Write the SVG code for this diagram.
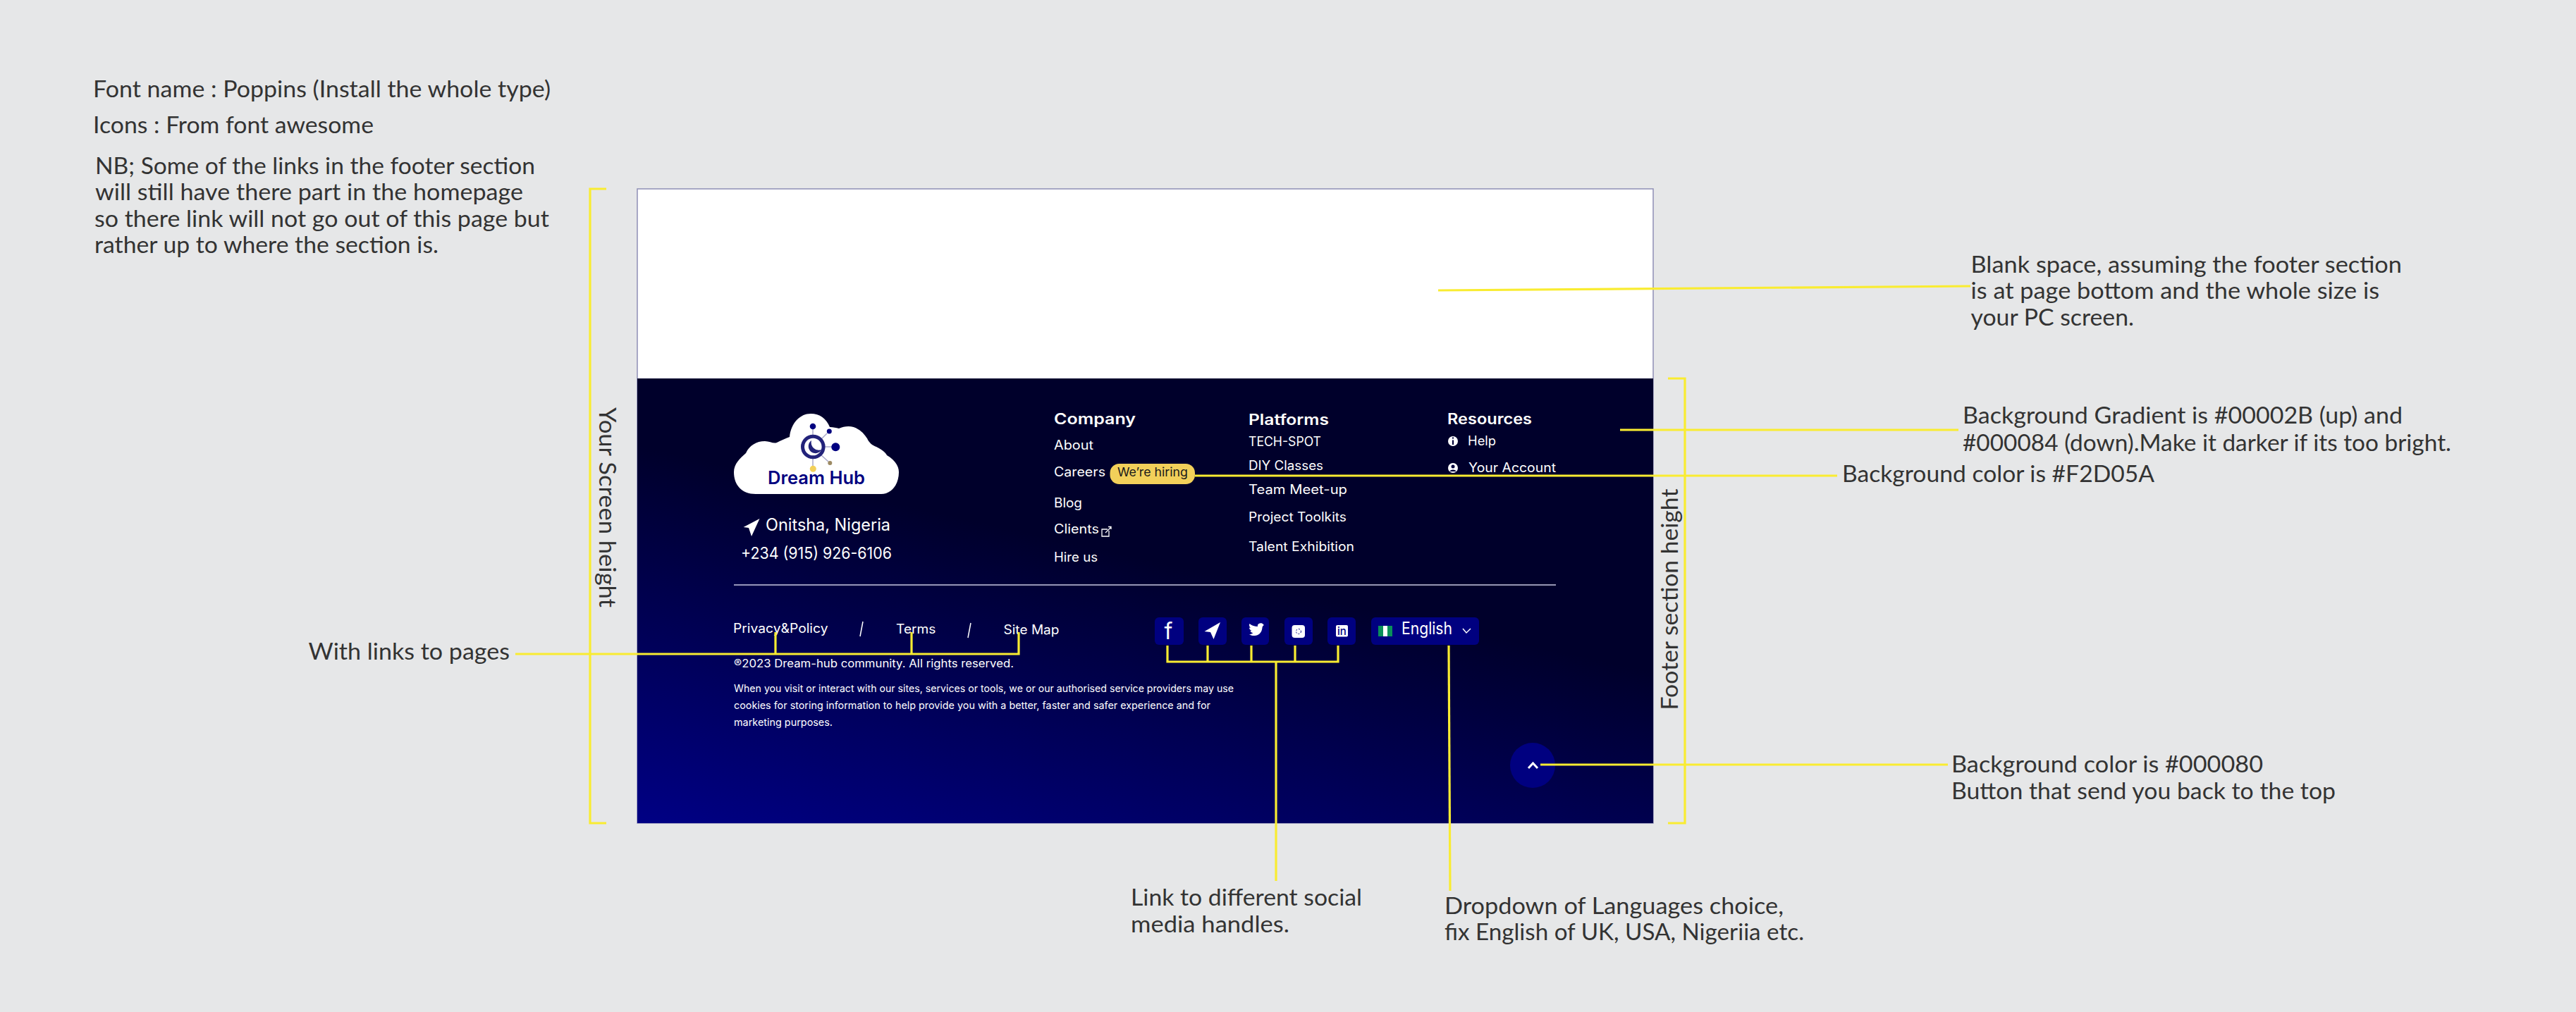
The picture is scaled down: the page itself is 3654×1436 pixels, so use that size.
<svg xmlns="http://www.w3.org/2000/svg" width="3654" height="1436" viewBox="0 0 3654 1436">
<defs>
<linearGradient id="footerGrad" gradientUnits="userSpaceOnUse" x1="904" y1="632" x2="790" y2="1142">
<stop offset="0" stop-color="#00002B"/><stop offset="1" stop-color="#000084"/>
</linearGradient>
</defs>
<style>
.note{font-family:"Lato","Liberation Sans",sans-serif;font-size:32px;fill:#333333}
.ft{font-family:"Inter","Liberation Sans",sans-serif;font-size:18px;fill:#ffffff}
.head{font-weight:600;font-size:21px}
.small{font-size:14.5px}
.conn{fill:none;stroke:#f9ec31;stroke-width:3.2}
.btn{fill:#000080}
.ico{fill:#ffffff}
.icoS{fill:none;stroke:#ffffff;stroke-width:2}
</style>
<rect width="3654" height="1436" fill="#e6e7e8"/>

<g id="notes">
<text class="note" x="132" y="138" textLength="649" lengthAdjust="spacingAndGlyphs">Font name : Poppins (Install the whole type)</text>
<text class="note" x="132" y="189" textLength="398" lengthAdjust="spacingAndGlyphs">Icons : From font awesome</text>
<text class="note" x="135" y="247" textLength="624" lengthAdjust="spacingAndGlyphs">NB; Some of the links in the footer section</text>
<text class="note" x="135" y="284" textLength="607" lengthAdjust="spacingAndGlyphs">will still have there part in the homepage</text>
<text class="note" x="134" y="322" textLength="645" lengthAdjust="spacingAndGlyphs">so there link will not go out of this page but</text>
<text class="note" x="134" y="359" textLength="488" lengthAdjust="spacingAndGlyphs">rather up to where the section is.</text>
</g>

<g id="page">
<rect x="904" y="268" width="1441" height="900" fill="#ffffff" stroke="#8f8fb5" stroke-width="1.5"/>
<rect id="footer-bg" x="904" y="537" width="1441" height="631" fill="url(#footerGrad)"/>
</g>

<g id="logo">
<path d="M1072 701C1052 701 1041 688 1041 670C1041 658 1050 650 1058 643C1063 632 1073 626 1085 626C1092 626 1097 630 1102 628C1108 625 1114 622 1120 620C1122 600 1135 587 1150 587C1163 587 1172 594 1177 606C1182 606 1186 607 1190 608C1199 604 1210 604 1217 609C1224 613 1227 618 1230 622C1233 629 1238 632 1243 634C1251 638 1256 642 1258 646C1268 652 1275 660 1275 670C1275 688 1264 701 1250 701Z" fill="#ffffff"/>
<g stroke="#a9a9c9" stroke-width="1.5" fill="none">
<path d="M1153 609V620M1173 615L1165 623M1170 634H1180M1165 646L1175 655M1153 651V661"/>
</g>
<circle cx="1153.3" cy="634" r="14.8" fill="none" stroke="#22227a" stroke-width="5"/>
<path d="M1151 625A10 10 0 1 0 1165.5 638A11 11 0 0 1 1151 625Z" fill="#22227a"/>
<circle cx="1153" cy="605" r="4.3" fill="#000080"/>
<circle cx="1176.3" cy="612" r="3.5" fill="#000080"/>
<circle cx="1185.3" cy="634.3" r="6" fill="#000080"/>
<circle cx="1177.3" cy="657" r="3" fill="#9c8a63"/>
<circle cx="1153.3" cy="665.3" r="4.5" fill="#f2d05a"/>
<text x="1089" y="687" textLength="138" lengthAdjust="spacingAndGlyphs" font-family="Inter, 'Liberation Sans', sans-serif" font-weight="600" font-size="25" fill="#000080">Dream Hub</text>
</g>

<g id="contact">
<polygon class="ico" points="1077.5,736 1054.6,748 1062,749 1066,761"/>
<text class="ft" x="1086" y="753" style="font-size:24px" textLength="177" lengthAdjust="spacingAndGlyphs">Onitsha, Nigeria</text>
<text class="ft" x="1051" y="793" style="font-size:23px" textLength="214" lengthAdjust="spacingAndGlyphs">+234 (915) 926-6106</text>
</g>

<g id="company">
<text class="ft head" x="1495" y="602" textLength="116" lengthAdjust="spacingAndGlyphs">Company</text>
<text class="ft" x="1495" y="638" textLength="56" lengthAdjust="spacingAndGlyphs">About</text>
<text class="ft" x="1495" y="676" textLength="73" lengthAdjust="spacingAndGlyphs">Careers</text>
<text class="ft" x="1495" y="720" textLength="40" lengthAdjust="spacingAndGlyphs">Blog</text>
<text class="ft" x="1495" y="757" textLength="64" lengthAdjust="spacingAndGlyphs">Clients</text>
<path class="icoS" style="stroke-width:1.3" d="M1571 751H1563V761H1573V753M1568 756L1576 748M1572 747.500H1576V751"/>
<text class="ft" x="1495" y="797" textLength="62" lengthAdjust="spacingAndGlyphs">Hire us</text>
</g>

<g id="hiring-badge">
<rect x="1574.500" y="658" width="120.500" height="29" rx="13" fill="#F2D05A"/>
<text class="ft" x="1585" y="676" style="fill:#1a1a1a;font-size:17px" textLength="100" lengthAdjust="spacingAndGlyphs">We’re hiring</text>
</g>

<g id="platforms">
<text class="ft head" x="1771" y="603" textLength="114" lengthAdjust="spacingAndGlyphs">Platforms</text>
<text class="ft" x="1771" y="633" textLength="103" lengthAdjust="spacingAndGlyphs">TECH-SPOT</text>
<text class="ft" x="1771" y="667" textLength="106" lengthAdjust="spacingAndGlyphs">DIY Classes</text>
<text class="ft" x="1771" y="701" textLength="140" lengthAdjust="spacingAndGlyphs">Team Meet-up</text>
<text class="ft" x="1771" y="740" textLength="139" lengthAdjust="spacingAndGlyphs">Project Toolkits</text>
<text class="ft" x="1771" y="782" textLength="150" lengthAdjust="spacingAndGlyphs">Talent Exhibition</text>
</g>

<g id="resources">
<text class="ft head" x="2053" y="602" textLength="120" lengthAdjust="spacingAndGlyphs">Resources</text>
<circle class="ico" cx="2061" cy="626" r="7"/>
<path d="M2061 620.500V622.500M2061 624.500V631" stroke="#00003a" stroke-width="2.200" fill="none"/>
<text class="ft" x="2082" y="632" textLength="40" lengthAdjust="spacingAndGlyphs">Help</text>
<circle class="ico" cx="2061" cy="664" r="7"/>
<circle cx="2061" cy="662" r="2.500" fill="#00003a"/>
<path d="M2056.500 669C2057 665.500 2065 665.500 2065.500 669Z" fill="#00003a"/>
<text class="ft" x="2083" y="670" textLength="124" lengthAdjust="spacingAndGlyphs">Your Account</text>
</g>

<g id="divider"><path d="M1041 830H2207" stroke="#c9c9e2" stroke-width="1.500" fill="none"/></g>

<g id="legal">
<text class="ft" x="1040" y="898" textLength="134.500" lengthAdjust="spacingAndGlyphs">Privacy&amp;Policy</text>
<path class="icoS" style="stroke-width:1.500" d="M1224 882L1220 903M1377 884L1373 905"/>
<text class="ft" x="1271" y="899" textLength="56.500" lengthAdjust="spacingAndGlyphs">Terms</text>
<text class="ft" x="1423.500" y="900" textLength="79" lengthAdjust="spacingAndGlyphs">Site Map</text>
<text class="ft" x="1041" y="947" style="font-size:16px" textLength="397" lengthAdjust="spacingAndGlyphs">®2023 Dream-hub community. All rights reserved.</text>
<text class="ft small" x="1041" y="982" textLength="709" lengthAdjust="spacingAndGlyphs">When you visit or interact with our sites, services or tools, we or our authorised service providers may use</text>
<text class="ft small" x="1041" y="1006" textLength="676" lengthAdjust="spacingAndGlyphs">cookies for storing information to help provide you with a better, faster and safer experience and for</text>
<text class="ft small" x="1041" y="1030" textLength="140" lengthAdjust="spacingAndGlyphs">marketing purposes.</text>
</g>

<g id="social-facebook">
<rect class="btn" x="1638" y="876" width="41" height="39" rx="6"/>
<text x="1657.500" y="907" text-anchor="middle" font-family="Inter, 'Liberation Sans', sans-serif" font-weight="400" font-size="32" fill="#ffffff">f</text>
</g>
<g id="social-telegram">
<rect class="btn" x="1700" y="876" width="40" height="39" rx="6"/>
<polygon class="ico" points="1731,883 1708.500,896 1717,897 1721.500,907"/>
</g>
<g id="social-twitter">
<rect class="btn" x="1761" y="876" width="39" height="39" rx="6"/>
<path class="ico" d="M1791 888C1792.500 887.500 1793.500 887 1791.500 885.500C1789.500 883.500 1785 884 1784 887C1783.800 888 1783.900 888.600 1784 889C1779.500 889 1775.500 887.500 1772.500 885C1771.500 887 1772 889.500 1774 891C1773 891 1772.500 890.800 1772 890.500C1772 892.500 1773.500 894.500 1775.500 895C1775 895.200 1774 895.200 1773.500 895C1774 896.800 1775.500 898 1777.500 898.200C1775.500 899.500 1773.500 900 1772 900C1775 902.500 1784 904 1788.500 897C1790 894.500 1790.500 892 1790.500 890C1791 889.500 1791.500 888.800 1791 888Z"/>
</g>
<g id="social-instagram">
<rect class="btn" x="1822" y="876" width="40" height="39" rx="6"/>
<rect class="ico" x="1832.500" y="887" width="18.500" height="18" rx="4"/>
<circle cx="1842" cy="896" r="3.500" fill="none" stroke="#000080" stroke-width="1" stroke-dasharray="2 2"/>
</g>
<g id="social-linkedin">
<rect class="btn" x="1883" y="876" width="40" height="39" rx="6"/>
<rect class="ico" x="1895" y="887" width="17" height="16.500" rx="2"/>
<text x="1903.500" y="901" text-anchor="middle" font-family="Inter, 'Liberation Sans', sans-serif" font-weight="500" font-size="15" fill="#000080">in</text>
</g>

<g id="language">
<rect class="btn" x="1945" y="876" width="153" height="39" rx="6"/>
<rect x="1955" y="888" width="20" height="15" fill="#ffffff"/>
<rect x="1955" y="888" width="7" height="15" fill="#0a8f5a"/>
<rect x="1968" y="888" width="7" height="15" fill="#0a8f5a"/>
<text class="ft" x="1988" y="900" style="font-size:24px" textLength="72" lengthAdjust="spacingAndGlyphs">English</text>
<path class="icoS" style="stroke-width:1.500" d="M2075 892L2080 898L2086 892"/>
</g>

<g id="back-to-top">
<circle cx="2174" cy="1086" r="32" fill="#000080"/>
<path class="icoS" style="stroke-width:3" d="M2168 1090L2174.500 1083L2181 1090"/>
</g>

<g id="connectors">
<path class="conn" d="M860 268H837V1168H860"/>
<path class="conn" d="M2366 537H2390V1168H2366"/>
<path class="conn" d="M2040 412L2795 406"/>
<path class="conn" d="M2298 610H2778"/>
<path class="conn" d="M1695 675H2606"/>
<path class="conn" d="M2185 1085H2763"/>
<path class="conn" d="M731 928H1445V897M1100 897V928M1293 897V928"/>
<path class="conn" d="M1656 916V939H1898V916M1713 916V939M1775 916V939M1837 916V939M1810 939V1250"/>
<path class="conn" d="M2055 916L2057 1264"/>
</g>

<g id="annotations">
<text class="note" transform="translate(850 578) rotate(90)" textLength="284" lengthAdjust="spacingAndGlyphs">Your Screen height</text>
<text class="note" transform="translate(2380 1007.500) rotate(-90)" textLength="314" lengthAdjust="spacingAndGlyphs">Footer section height</text>
<text class="note" x="437.500" y="936" textLength="285.500" lengthAdjust="spacingAndGlyphs">With links to pages</text>
<text class="note" x="2795.500" y="387" textLength="611.500" lengthAdjust="spacingAndGlyphs">Blank space, assuming the footer section</text>
<text class="note" x="2795.500" y="424" textLength="579.500" lengthAdjust="spacingAndGlyphs">is at page bottom and the whole size is</text>
<text class="note" x="2795.500" y="462" textLength="231.500" lengthAdjust="spacingAndGlyphs">your PC screen.</text>
<text class="note" x="2784" y="601" textLength="624" lengthAdjust="spacingAndGlyphs">Background Gradient is #00002B (up) and</text>
<text class="note" x="2784" y="640" textLength="693" lengthAdjust="spacingAndGlyphs">#000084 (down).Make it darker if its too bright.</text>
<text class="note" x="2613" y="684" textLength="443" lengthAdjust="spacingAndGlyphs">Background color is #F2D05A</text>
<text class="note" x="2768" y="1096" textLength="442" lengthAdjust="spacingAndGlyphs">Background color is #000080</text>
<text class="note" x="2768" y="1134" textLength="545" lengthAdjust="spacingAndGlyphs">Button that send you back to the top</text>
<text class="note" x="1604" y="1285" textLength="328" lengthAdjust="spacingAndGlyphs">Link to different social</text>
<text class="note" x="1604" y="1323" textLength="225" lengthAdjust="spacingAndGlyphs">media handles.</text>
<text class="note" x="2049" y="1297" textLength="481" lengthAdjust="spacingAndGlyphs">Dropdown of Languages choice,</text>
<text class="note" x="2049" y="1334" textLength="510" lengthAdjust="spacingAndGlyphs">fix English of UK, USA, Nigeriia etc.</text>
</g>
</svg>
